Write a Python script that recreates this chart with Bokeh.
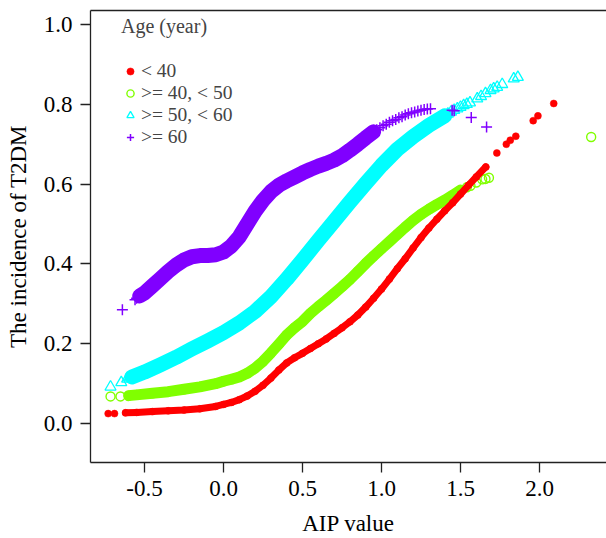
from bokeh.plotting import figure
from bokeh.models import Range1d, FixedTicker, PrintfTickFormatter, LinearAxis, Legend, LegendItem
from bokeh.embed import file_html
from bokeh.resources import INLINE

# ---------------- data ----------------
group_labels = ["< 40", ">= 40, < 50", ">= 50, < 60", ">= 60"]
group_colors = ["#FF0000", "#80FF00", "#00FFFF", "#8000FF"]

x_ticks = [-0.5, 0.0, 0.5, 1.0, 1.5, 2.0]
y_ticks = [0.0, 0.2, 0.4, 0.6, 0.8, 1.0]

# Age < 40 : dense band and isolated points
red_x = [-0.62, -0.55, -0.45, -0.35, -0.25, -0.15, -0.05, 0.0, 0.05, 0.10,
         0.15, 0.20, 0.25, 0.30, 0.35, 0.40, 0.45, 0.50, 0.55, 0.60,
         0.65, 0.70, 0.75, 0.80, 0.85, 0.90, 0.95, 1.00, 1.05, 1.10,
         1.15, 1.20, 1.25, 1.30, 1.35, 1.40, 1.45, 1.50, 1.55, 1.60, 1.66]
red_y = [0.027, 0.028, 0.030, 0.032, 0.034, 0.037, 0.043, 0.048, 0.053, 0.060,
         0.069, 0.081, 0.096, 0.114, 0.134, 0.152, 0.165, 0.176, 0.188, 0.200,
         0.212, 0.226, 0.240, 0.255, 0.272, 0.292, 0.314, 0.337, 0.362, 0.388,
         0.413, 0.440, 0.466, 0.490, 0.512, 0.533, 0.553, 0.575, 0.597, 0.618, 0.643]
red_sparse_x = [-0.73, -0.69, 1.73, 1.79, 1.815, 1.85, 1.96, 1.99, 2.09]
red_sparse_y = [0.025, 0.025, 0.678, 0.700, 0.710, 0.720, 0.759, 0.771, 0.802]

# Age >= 40, < 50
green_x = [-0.60, -0.55, -0.45, -0.35, -0.25, -0.15, -0.05, 0.0, 0.05, 0.10,
           0.15, 0.20, 0.25, 0.30, 0.35, 0.40, 0.45, 0.50, 0.55, 0.60,
           0.65, 0.70, 0.75, 0.80, 0.85, 0.90, 0.95, 1.00, 1.05, 1.10,
           1.15, 1.20, 1.25, 1.30, 1.35, 1.40, 1.45, 1.50]
green_y = [0.070, 0.072, 0.076, 0.080, 0.086, 0.092, 0.100, 0.106, 0.111, 0.117,
           0.126, 0.139, 0.156, 0.177, 0.199, 0.222, 0.240, 0.256, 0.276, 0.293,
           0.309, 0.326, 0.343, 0.361, 0.381, 0.401, 0.420, 0.438, 0.456, 0.474,
           0.492, 0.509, 0.524, 0.537, 0.549, 0.560, 0.572, 0.585]
green_sparse_x = [-0.715, -0.652, 1.54, 1.563, 1.60, 1.637, 1.658, 1.68, 2.327]
green_sparse_y = [0.068, 0.068, 0.592, 0.596, 0.604, 0.612, 0.613, 0.616, 0.718]

# Age >= 50, < 60
cyan_x = [-0.58, -0.50, -0.40, -0.30, -0.20, -0.10, 0.0, 0.10, 0.20, 0.30,
          0.40, 0.50, 0.60, 0.70, 0.80, 0.90, 1.00, 1.10, 1.20, 1.30, 1.40]
cyan_y = [0.117, 0.129, 0.147, 0.166, 0.187, 0.207, 0.228, 0.252, 0.281, 0.318,
          0.362, 0.410, 0.459, 0.507, 0.555, 0.602, 0.647, 0.687, 0.719, 0.747, 0.771]
cyan_sparse_x = [-0.715, -0.647, -0.61, -0.595, 1.42, 1.44, 1.46, 1.48, 1.50, 1.52,
                 1.54, 1.56, 1.606, 1.63, 1.658, 1.69, 1.71, 1.732, 1.764, 1.837, 1.863]
cyan_sparse_y = [0.092, 0.103, 0.112, 0.115, 0.776, 0.781, 0.785, 0.789, 0.793, 0.797,
                 0.800, 0.804, 0.814, 0.820, 0.827, 0.835, 0.839, 0.843, 0.850, 0.864, 0.868]

# Age >= 60
purple_x = [-0.53, -0.50, -0.45, -0.40, -0.35, -0.30, -0.25, -0.20, -0.15, -0.10,
            -0.05, 0.0, 0.05, 0.10, 0.15, 0.20, 0.25, 0.30, 0.35, 0.40,
            0.45, 0.50, 0.55, 0.60, 0.65, 0.70, 0.75, 0.80, 0.85, 0.90, 0.95]
purple_y = [0.320, 0.327, 0.345, 0.363, 0.381, 0.397, 0.410, 0.418, 0.421, 0.421,
            0.423, 0.430, 0.445, 0.468, 0.500, 0.532, 0.559, 0.581, 0.597, 0.608,
            0.618, 0.628, 0.637, 0.645, 0.652, 0.660, 0.671, 0.685, 0.700, 0.716, 0.731]
purple_sparse_x = [-0.64, -0.56, -0.55, -0.54, 0.97, 0.99, 1.01, 1.03, 1.05, 1.07,
                   1.09, 1.11, 1.13, 1.15, 1.17, 1.19, 1.21, 1.23, 1.25, 1.27,
                   1.29, 1.31, 1.447, 1.46, 1.568, 1.665]
purple_sparse_y = [0.285, 0.310, 0.314, 0.317, 0.736, 0.741, 0.746, 0.750, 0.755, 0.759,
                   0.762, 0.766, 0.769, 0.773, 0.776, 0.779, 0.781, 0.783, 0.785, 0.787,
                   0.788, 0.789, 0.785, 0.784, 0.767, 0.743]

# ---------------- figure ----------------
FONT = "Liberation Serif"

p = figure(width=606, height=538,
           x_range=Range1d(-0.8418, 2.424), y_range=Range1d(-0.0975, 1.035),
           output_backend="svg", toolbar_location=None,
           min_border_left=90, min_border_right=0, min_border_top=10, min_border_bottom=75)
p.outline_line_color = None
p.grid.visible = False
p.background_fill_color = "white"
p.border_fill_color = "white"

p.xaxis.ticker = FixedTicker(ticks=x_ticks)
p.yaxis.ticker = FixedTicker(ticks=y_ticks)
p.xaxis.formatter = PrintfTickFormatter(format="%.1f")
p.yaxis.formatter = PrintfTickFormatter(format="%.1f")
p.xaxis.axis_label = "AIP value"
p.yaxis.axis_label = "The incidence of T2DM"

for ax in (p.xaxis[0], p.yaxis[0]):
    ax.major_tick_out = 10
    ax.major_tick_in = 0
    ax.minor_tick_out = 0
    ax.minor_tick_in = 0
    ax.axis_line_color = "#222222"
    ax.axis_line_width = 1.3
    ax.major_tick_line_color = "#222222"
    ax.major_tick_line_width = 1.3
    ax.major_label_text_font = FONT
    ax.major_label_text_font_size = "23px"
    ax.major_label_text_color = "black"
    ax.axis_label_text_font = FONT
    ax.axis_label_text_font_size = "23px"
    ax.axis_label_text_font_style = "normal"
    ax.axis_label_text_color = "black"

p.xaxis.major_label_standoff = 8
p.xaxis.axis_label_standoff = 12
p.yaxis.major_label_standoff = 8
p.yaxis.axis_label_standoff = 10

top_axis = LinearAxis(ticker=FixedTicker(ticks=[]), major_tick_out=0, major_tick_in=0,
                      minor_tick_out=0, minor_tick_in=0, major_label_standoff=0,
                      major_label_text_font_size="0px",
                      axis_line_color="#222222", axis_line_width=1.3)
p.add_layout(top_axis, "above")

# ---------------- marks ----------------
band_widths = [7, 11, 15, 15]
series = [
    (red_x, red_y, red_sparse_x, red_sparse_y),
    (green_x, green_y, green_sparse_x, green_sparse_y),
    (cyan_x, cyan_y, cyan_sparse_x, cyan_sparse_y),
    (purple_x, purple_y, purple_sparse_x, purple_sparse_y),
]
marker_kw = [
    dict(marker="circle", size=7, fill_color=group_colors[0], line_color=group_colors[0], line_width=0.5),
    dict(marker="circle", size=9, fill_color=None, line_color=group_colors[1], line_width=1.4),
    dict(marker="triangle", size=11, fill_color=None, line_color=group_colors[2], line_width=1.3),
    dict(marker="cross", size=11, line_color=group_colors[3], line_width=1.5),
]

draw_order = [1, 0, 2, 3]
legend_renderers = {}
for i in draw_order:
    bx, by, sx, sy = series[i]
    p.line(bx, by, line_color=group_colors[i], line_width=band_widths[i],
           line_cap="round", line_join="round")
    r = p.scatter(bx, by, **marker_kw[i])
    p.scatter(sx, sy, **marker_kw[i])
    legend_renderers[i] = r

legend = Legend(items=[LegendItem(label=group_labels[i], renderers=[legend_renderers[i]]) for i in range(4)],
                title="Age (year)", location=(31, 314))
legend.title_text_font = FONT
legend.title_text_font_size = "20px"
legend.title_text_font_style = "normal"
legend.title_standoff = 22
legend.label_text_font = FONT
legend.label_text_font_size = "19.5px"
legend.label_standoff = 2
legend.glyph_width = 18
legend.glyph_height = 20
legend.label_height = 20
legend.spacing = 0
legend.padding = 4
legend.margin = 0
legend.border_line_color = None
legend.background_fill_alpha = 0
p.add_layout(legend, "center")

open("out.html", "w").write(file_html(p, INLINE))
